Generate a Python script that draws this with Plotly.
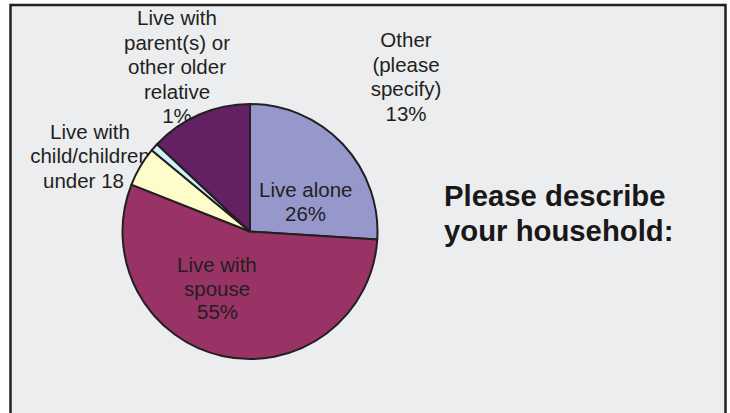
import plotly.graph_objects as go

# ---- data ----
categories = ["Live alone", "Live with spouse", "Live with child/children under 18",
              "Live with parent(s) or other older relative", "Other (please specify)"]
values = [26, 55, 5, 1, 13]
slice_colors = ["#9697CA", "#993366", "#FFFCCC", "#CCF2F8", "#632063"]
label_lines = [["Live alone", "26%"],
               ["Live with", "spouse", "55%"],
               ["Live with", "child/children", "under 18"],
               ["Live with", "parent(s) or", "other older", "relative", "1%"],
               ["Other", "(please", "specify)", "13%"]]
title_lines = ["Please describe", "your household:"]

W, H = 730, 413
TXT = "#231F20"
FONT = "Liberation Sans, Arial, sans-serif"
LS = 20.5          # label font size
STEP = 24.5        # label line step

cx, cy, r = 250, 231.5, 127.5

fig = go.Figure()

# outer labels are drawn beneath the pie (the pie overlaps them, as in the original)
outer = {2: (90, 133.5), 3: (177, 20), 4: (406, 42)}
for i, (x0, y0) in outer.items():
    lines = label_lines[i]
    xs, ys, pos = [], [], []
    for k, _ in enumerate(lines):
        ys.append(y0 + k * STEP)
        if i == 2 and k == 2:
            xs.append(43)
            pos.append("middle right")
        else:
            xs.append(x0)
            pos.append("middle center")
    fig.add_trace(go.Scatter(x=xs, y=ys, mode="text", text=lines, textposition=pos,
                             textfont=dict(size=LS, color=TXT, family=FONT),
                             hoverinfo="skip", showlegend=False))

fig.add_trace(go.Pie(labels=categories, values=values, sort=False, direction="clockwise",
                     rotation=0, textinfo="none", hoverinfo="label+percent",
                     marker=dict(colors=slice_colors, line=dict(color=TXT, width=2)),
                     domain=dict(x=[(cx - r) / W, (cx + r) / W],
                                 y=[(H - cy - r) / H, (H - cy + r) / H]),
                     showlegend=False))

inner = {0: (305, 189.5), 1: (217, 264.5)}
annotations = []
for i, (x0, y0) in inner.items():
    for k, line in enumerate(label_lines[i]):
        annotations.append(dict(x=x0, y=y0 + k * 23.5, xref="x", yref="y", text=line, showarrow=False,
                                font=dict(size=LS, color=TXT, family=FONT),
                                xanchor="center", yanchor="middle"))
for j, line in enumerate(title_lines):
    annotations.append(dict(x=442, y=195 + 35 * j, xref="x", yref="y", text="<b>" + line + "</b>",
                            showarrow=False, font=dict(size=29.3, color="#1A1718", family=FONT),
                            xanchor="left", yanchor="middle"))

fig.update_layout(
    width=W, height=H, margin=dict(l=0, r=0, t=0, b=0),
    paper_bgcolor="white", plot_bgcolor="rgba(0,0,0,0)",
    xaxis=dict(range=[0, W], visible=False, fixedrange=True),
    yaxis=dict(range=[H, 0], visible=False, fixedrange=True),
    shapes=[dict(type="rect", xref="x", yref="y", x0=10.5, x1=725.5, y0=5, y1=440,
                 line=dict(color=TXT, width=2.5), fillcolor="#ECEDEF", layer="below")],
    annotations=annotations,
)

fig.write_html("out.html", config={"displayModeBar": False},
               post_script="document.body.style.margin='0';document.body.style.overflow='hidden';")
